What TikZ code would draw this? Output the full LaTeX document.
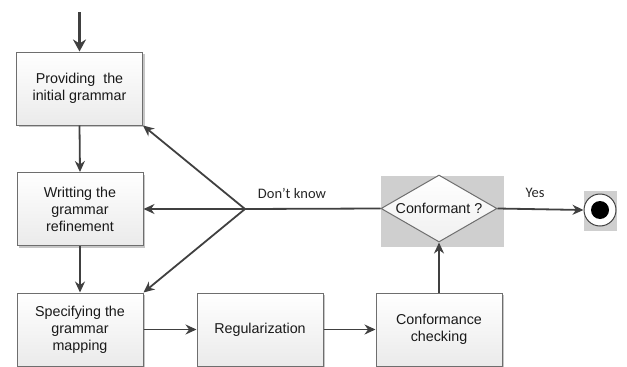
\documentclass[tikz,border=0pt]{standalone}
\usepackage{fontspec}
\setmainfont{Liberation Sans}
\newfontfamily\labelfont{Carlito}
\usetikzlibrary{shapes.geometric,arrows.meta,shadows}
\definecolor{linec}{HTML}{404040}
\definecolor{boxedge}{HTML}{6E6E6E}
\begin{document}
\begin{tikzpicture}[x=1pt,y=-1pt,
  procbox/.style={draw=boxedge,line width=1pt,top color=white,bottom color=gray!16,
    minimum width=126pt,minimum height=73pt,inner sep=2pt,align=center,
    font=\fontsize{14.3}{17}\selectfont,text=black!90,
    drop shadow={shadow xshift=2pt,shadow yshift=-2pt,fill=gray!45,opacity=1}},
  arr/.style={draw=linec,line width=1.8pt,-{Stealth[length=11pt,width=10pt]}},
  plain/.style={draw=linec,line width=1.8pt},
  lbl/.style={font=\labelfont\fontsize{14.5}{16}\selectfont,text=black!85}]
\useasboundingbox (0,0) rectangle (627,367);
\node[procbox] (b1) at (79.5,88.5) {Providing~~the\\initial grammar};
\node[procbox] (b2) at (80,209) {Writting the\\grammar\\refinement};
\node[procbox] (b3) at (80,329.5) {Specifying the\\grammar\\mapping};
\node[procbox] (b4) at (260,329.5) {Regularization};
\node[procbox] (b5) at (439,329.5) {Conformance\\checking};
\node[fill=gray!38,minimum width=123pt,minimum height=71pt,inner sep=0pt] (dbg) at (442.5,211.5) {};
\node[diamond,draw=boxedge,line width=1pt,top color=white,bottom color=gray!12,
  minimum width=116pt,minimum height=67pt,aspect=1.73,inner sep=0pt,
  font=\fontsize{14.3}{16}\selectfont,text=black!90] (dia) at (439,208.5) {Conformant ?};
\node[fill=gray!38,minimum width=33pt,minimum height=40pt,inner sep=0pt] (ebg) at (600.5,211) {};
\node[circle,draw=linec,line width=1pt,fill=white,minimum size=32pt,inner sep=0pt] (end) at (600,210) {};
\node[circle,fill=black,minimum size=18pt,inner sep=0pt] (endin) at (end.center) {};
\coordinate (start) at (79.5,12);
\coordinate (j) at (245,209);
\draw[draw=linec,line width=3.2pt,-{Stealth[length=12pt,width=13pt]}] (start) -- (b1.north);
\draw[arr] (b1.south) -- (b2.north);
\draw[arr] (b2.south) -- (b3.north);
\draw[arr] (b3.east) -- (b4.west);
\draw[arr] (b4.east) -- (b5.west);
\draw[arr] (b5.north) -- (dia.south);
\draw[arr] (dia.east) -- (end.west);
\draw[plain] (dia.west) -- (j);
\draw[arr] (j) -- (b2.east);
\draw[arr] (j) -- (b1.south east);
\draw[arr] (j) -- (b3.north east);
\node[lbl] (dk) at (292,193) {Don’t know};
\node[lbl] (yes) at (535,193) {Yes};
\end{tikzpicture}
\end{document}
